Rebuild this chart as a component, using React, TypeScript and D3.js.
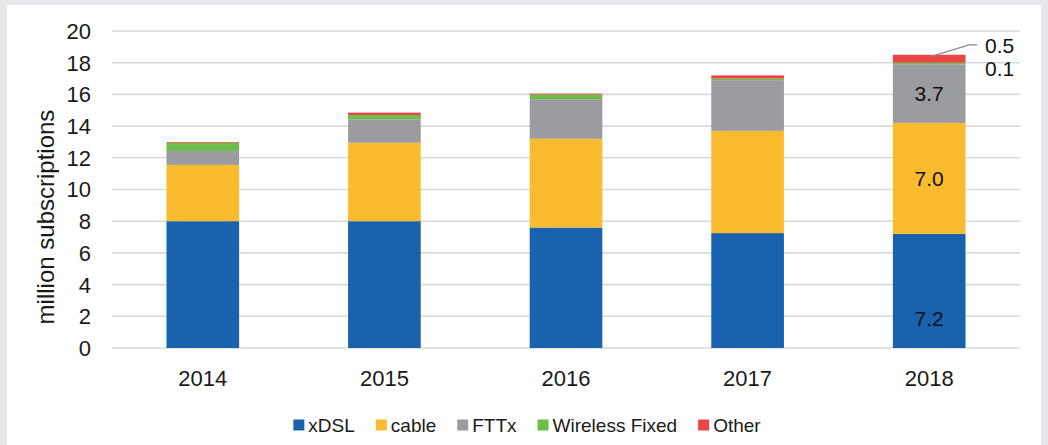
import React from "react";
import * as d3 from "d3";

const years = ["2014", "2015", "2016", "2017", "2018"];
const xDSL = [8.0, 8.0, 7.6, 7.25, 7.2];
const cable = [3.55, 4.95, 5.6, 6.45, 7.0];
const fttx = [0.88, 1.48, 2.5, 3.2, 3.7];
const wirelessFixed = [0.52, 0.27, 0.3, 0.1, 0.1];
const other = [0.05, 0.15, 0.05, 0.2, 0.5];
const seriesNames = ["xDSL", "cable", "FTTx", "Wireless Fixed", "Other"];
const seriesColors = ["#1862ae", "#fbbb2e", "#9b9c9f", "#6dbd4a", "#e84545"];
const yTicks = [0, 2, 4, 6, 8, 10, 12, 14, 16, 18, 20];

const W = 1048;
const H = 445;
const FONT = "'Liberation Sans', Arial, sans-serif";

function measure(text: string, size: number) {
  if (typeof document === "undefined") return text.length * size * 0.5;
  const c = document.createElement("canvas");
  const ctx = c.getContext("2d")!;
  ctx.font = `${size}px 'Liberation Sans', Arial, sans-serif`;
  return ctx.measureText(text).width;
}

export default function App() {
  const x = d3.scaleBand<string>().domain(years).range([112, 1020]).paddingInner(0.6).paddingOuter(0.3);
  const y = d3.scaleLinear().domain([0, 20]).range([348, 31]);

  const table = years.map((yr, i) => ({
    year: yr,
    xDSL: xDSL[i],
    cable: cable[i],
    FTTx: fttx[i],
    "Wireless Fixed": wirelessFixed[i],
    Other: other[i],
  }));
  const stack = d3.stack<any>().keys(seriesNames);
  const layers = stack(table);

  // legend layout
  const legSize = 19;
  const sq = 11;
  const gapAfterSq = 4;
  const gapItems = 21;
  const widths = seriesNames.map((n) => sq + gapAfterSq + measure(n, legSize));
  const totalW = d3.sum(widths) + gapItems * (seriesNames.length - 1);
  let cursor = 527 - totalW / 2;
  const legendItems = seriesNames.map((n, i) => {
    const item = { name: n, x: cursor, color: seriesColors[i] };
    cursor += widths[i] + gapItems;
    return item;
  });

  const last = years.length - 1;
  const lastYear = years[last];
  const bx = x(lastYear)! + x.bandwidth() / 2;
  const lastLayers = layers.map((l) => l[last]);

  return (
    <svg
      width={W}
      height={H}
      style={{ position: "absolute", left: 0, top: 0, fontFamily: FONT }}
    >
      <rect x={0} y={0} width={W} height={H} fill="#e5e7ea" />
      <rect x={7} y={5} width={W - 14} height={H - 5} fill="#ffffff" />

      {/* gridlines */}
      {yTicks.map((t) => (
        <line key={t} x1={112} x2={1020} y1={y(t)} y2={y(t)} stroke="#d9d9d9" strokeWidth={1.6} />
      ))}

      {/* y tick labels */}
      {yTicks.map((t) => (
        <text key={t} x={91} y={y(t)} dy="0.36em" textAnchor="end" fontSize={22} fill="#1a1a1a">
          {t}
        </text>
      ))}

      <text
        transform={`translate(45,217) rotate(-90)`}
        textAnchor="middle"
        dy="0.36em"
        fontSize={24}
        fill="#1a1a1a"
      >
        million subscriptions
      </text>

      {/* bars */}
      {layers.map((layer, si) =>
        layer.map((d, i) => (
          <rect
            key={`${si}-${i}`}
            x={x(years[i])}
            width={x.bandwidth()}
            y={y(d[1])}
            height={Math.max(0, y(d[0]) - y(d[1]))}
            fill={seriesColors[si]}
          />
        ))
      )}

      {/* year labels */}
      {years.map((yr) => (
        <text key={yr} x={x(yr)! + x.bandwidth() / 2} y={378} dy="0.36em" textAnchor="middle" fontSize={22} fill="#1a1a1a">
          {yr}
        </text>
      ))}

      {/* data labels for last bar */}
      <text x={bx} y={y(lastLayers[0][0]) - 30} dy="0.36em" textAnchor="middle" fontSize={21} fill="#111">
        {xDSL[last].toFixed(1)}
      </text>
      <text x={bx} y={y((lastLayers[1][0] + lastLayers[1][1]) / 2)} dy="0.36em" textAnchor="middle" fontSize={21} fill="#111">
        {cable[last].toFixed(1)}
      </text>
      <text x={bx} y={y((lastLayers[2][0] + lastLayers[2][1]) / 2)} dy="0.36em" textAnchor="middle" fontSize={21} fill="#111">
        {fttx[last].toFixed(1)}
      </text>
      <polyline
        points={`${bx + 2},${y(lastLayers[4][1]) + 1.5} ${bx + 40},${y(lastLayers[4][1]) - 10} ${bx + 48},${y(lastLayers[4][1]) - 10}`}
        fill="none"
        stroke="#8c8c8c"
        strokeWidth={1.3}
      />
      <text x={985} y={y(lastLayers[4][1]) - 9} dy="0.36em" fontSize={21} fill="#111">
        {other[last].toFixed(1)}
      </text>
      <text x={985} y={y(lastLayers[3][1]) + 6} dy="0.36em" fontSize={21} fill="#111">
        {wirelessFixed[last].toFixed(1)}
      </text>

      {/* legend */}
      {legendItems.map((it) => (
        <g key={it.name}>
          <rect x={it.x} y={425 - sq / 2} width={sq} height={sq} fill={it.color} />
          <text x={it.x + sq + gapAfterSq} y={425} dy="0.36em" fontSize={legSize} fill="#1a1a1a">
            {it.name}
          </text>
        </g>
      ))}
    </svg>
  );
}
